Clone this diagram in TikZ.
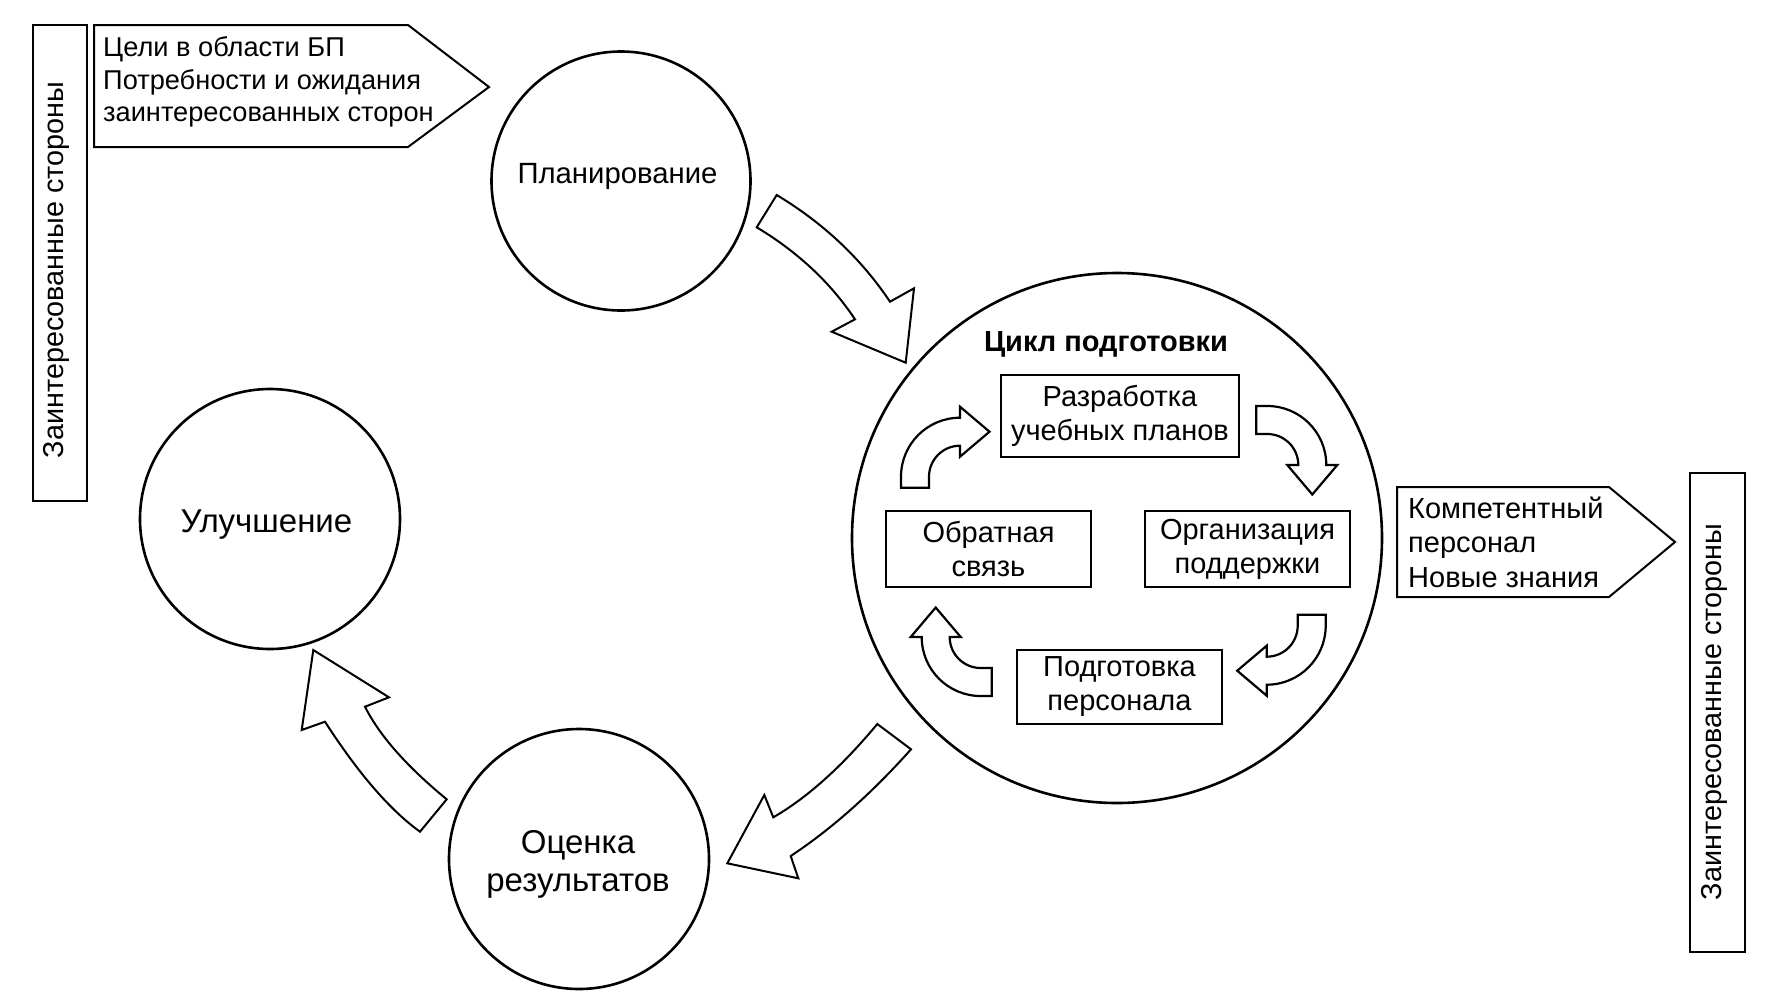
\documentclass[tikz,border=0pt]{standalone}
\usepackage{fontspec}
\setmainfont{Liberation Sans}
\newcommand\ftcirc{\fontsize{29.3}{34}\selectfont}
\newcommand\ftbig{\fontsize{33}{38}\selectfont}
\newcommand\ftbox{\fontsize{29}{34}\selectfont}
\newcommand\ftpent{\fontsize{27.2}{32}\selectfont}
\newcommand\ftpentr{\fontsize{29}{34}\selectfont}
\newcommand\ftvert{\fontsize{28.8}{32}\selectfont}
\begin{document}
\begin{tikzpicture}[x=1pt,y=-1pt,
  circ/.style={circle,draw,line width=2.6pt,inner sep=0pt},
  ibox/.style={rectangle,draw,line width=2.6pt,inner sep=0pt,align=center,font=\ftbox},
  tall/.style={rectangle,draw,line width=2pt,inner sep=0pt},
  pent/.style={draw,line width=2pt,line join=miter},
  bigarr/.style={draw,line width=2pt,line join=miter,fill=white},
  smallarr/.style={draw,line width=2.2pt,line join=miter,fill=white},
  txt/.style={inner sep=0pt},
  pics/bend/.style={code={
    \draw[smallarr] (-31,11) -- (-59,11) -- (-59,0)
      arc[start angle=180,end angle=270,radius=59]
      -- (0,-70) -- (29.5,-45) -- (0,-20) -- (0,-31)
      arc[start angle=270,end angle=180,radius=31] -- cycle;
  }}
]
\useasboundingbox (0,0) rectangle (1773,997);

% side boxes
\node[tall,minimum width=54pt,minimum height=476pt] (lbox) at (60,263) {};
\node[txt,rotate=90,font=\ftvert] (ltext) at (56,270) {Заинтересованные стороны};
\node[tall,minimum width=55pt,minimum height=479pt] (rbox) at (1717.5,712.5) {};
\node[txt,rotate=90,font=\ftvert] (rtext) at (1714,712) {Заинтересованные стороны};

% left pentagon
\draw[pent] (94,25) -- (408,25) -- (489,87) -- (408,147) -- (94,147) -- cycle;
\node[txt,anchor=base west,font=\ftpent] (g1) at (103,56) {Цели в области БП};
\node[txt,anchor=base west,font=\ftpent] (g2) at (103,89) {Потребности и ожидания};
\node[txt,anchor=base west,font=\ftpent] (g3) at (103,121) {заинтересованных сторон};

% right pentagon
\draw[pent] (1397,487) -- (1609,487) -- (1675,542) -- (1609,597) -- (1397,597) -- cycle;
\node[txt,anchor=base west,font=\ftpentr] (o1) at (1408,518) {Компетентный};
\node[txt,anchor=base west,font=\ftpentr] (o2) at (1408,552) {персонал};
\node[txt,anchor=base west,font=\ftpentr] (o3) at (1408,587) {Новые знания};

% circles
\node[circ,minimum size=259pt] (plan) at (621,181) {};
\node[txt,anchor=base,font=\ftcirc] (plant) at (617.5,183.5) {Планирование};
\node[circ,minimum size=260pt] (impr) at (270,519) {};
\node[txt,anchor=base,font=\ftbig] (imprt) at (266.5,532) {Улучшение};
\node[circ,minimum size=260pt] (eval) at (579,859) {};
\node[txt,anchor=base,font=\ftbig] (evalt1) at (578,853) {Оценка};
\node[txt,anchor=base,font=\ftbig] (evalt2) at (578,891) {результатов};
\node[circ,minimum size=530pt] (cycle) at (1117,538) {};
\node[txt,anchor=base,font=\ftbox\bfseries] (cyclet) at (1106,351) {Цикл подготовки};

% inner boxes
\node[ibox,minimum width=238pt,minimum height=82pt] (dev) at (1120,416) {Разработка\\учебных планов};
\node[ibox,minimum width=205pt,minimum height=76pt] (fb) at (988.5,549) {Обратная\\связь};
\node[ibox,minimum width=205pt,minimum height=76pt] (org) at (1247.5,549) {Организация\\поддержки};
\node[ibox,minimum width=205pt,minimum height=74pt] (trn) at (1119.5,687) {Подготовка\\персонала};

% small curved arrows
\pic at (960,476.7) {bend};
\pic[rotate=-90] at (1267.3,465) {bend};
\pic[rotate=180] at (1266.7,625.7) {bend};
\pic[rotate=90] at (980.7,637) {bend};

% big arrows
\path[bigarr] (776.7,195) -- (756.7,227.3)
  .. controls (797.8,252.0) and (830.5,282.6) .. (855,319.3)
  -- (831.7,331.7) -- (905.7,362.7) -- (914,288.3) -- (890,301.7)
  .. controls (861.3,258.8) and (823.6,223.2) .. (776.7,195) -- cycle;
\path[bigarr] (877.3,724) -- (911,749.3)
  .. controls (871.5,793.6) and (831.4,829.1) .. (790.7,856)
  -- (798.3,878.3) -- (727.3,863.3) -- (764.3,795) -- (773.3,817.3)
  .. controls (807.1,797.8) and (841.8,766.7) .. (877.3,724) -- cycle;
\path[bigarr] (313.3,650) -- (389,697.3) -- (365,706.7)
  .. controls (379.5,735.6) and (406.7,766.4) .. (446.7,799.3)
  -- (420,831.7)
  .. controls (390,810.1) and (358.3,773.4) .. (325,721.7)
  -- (301.7,730) -- cycle;
\end{tikzpicture}
\end{document}
